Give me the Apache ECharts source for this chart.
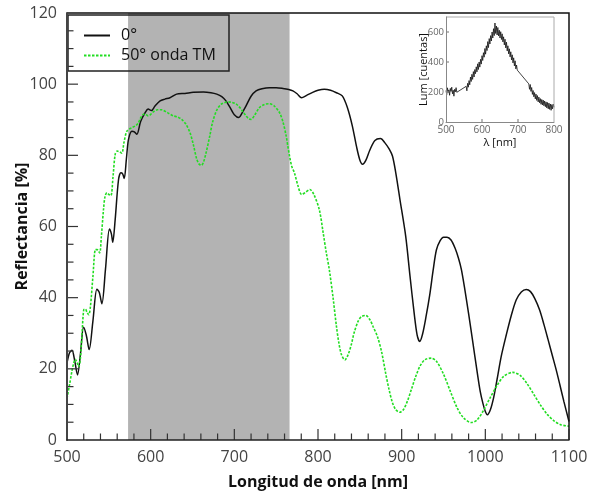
<!DOCTYPE html>
<html>
<head>
<meta charset="utf-8">
<script src="https://cdn.jsdelivr.net/npm/echarts@6/dist/echarts.min.js"></script>
<style>
  html, body { margin: 0; padding: 0; background: #fff; }
  #chart { width: 590px; height: 496px; }
</style>
</head>
<body>
<div id="chart"></div>
<script>
// Reflectance at normal incidence (0°)
const wl0 = [500, 503, 506, 509, 512.6, 516, 519.8, 523, 526.5, 531, 535.7, 538.5, 541.7, 546, 550.7, 553, 554.7,
  557.6, 561.5, 564.4, 566.5, 568.4, 571, 573.5, 577.6, 580.5, 583.5, 588, 593.4, 597, 601, 605, 611.3, 617,
  623, 631, 641, 651, 663, 672, 679, 685, 690, 695, 700, 705.5, 709, 714, 720, 726, 733, 742, 750, 758, 765,
  770, 775, 780.4, 786, 793.6, 800, 807.5, 815, 822, 829, 835, 841, 846, 850, 853.2, 857, 862, 868, 874.7,
  880, 885, 889, 893, 898, 904.8, 910, 915, 918.5, 921.6, 925, 929, 933.5, 937.5, 941.5, 946, 950, 954.2,
  959, 964, 968, 971.4, 975, 980, 985.2, 990, 994, 997.1, 1000, 1002.4, 1006, 1010, 1014, 1019, 1025,
  1031, 1037, 1043, 1048.9, 1054, 1059, 1064.8, 1070, 1075, 1080, 1084.7, 1089, 1094, 1100];
const r0 = [21.6, 24.5, 25.2, 22.5, 18.3, 24, 31.7, 29.5, 25.4, 33.5, 42.4, 41.5, 38.3, 48, 59.3, 58, 55.6,
  62, 73, 75.1, 74.8, 73.5, 79, 84.5, 86.8, 86.6, 85.9, 89.5, 92, 93, 92.6, 93.8, 95.3, 95.8,
  96.2, 97.2, 97.4, 97.7, 97.8, 97.6, 97.2, 96.5, 95.3, 93.4, 91.4, 90.6, 91.8, 93.9, 96.6, 98.1, 98.7, 99, 99, 98.8, 98.5,
  98.1, 97.3, 96.2, 96.8, 97.7, 98.3, 98.6, 98.3, 97.6, 96.7, 93.5, 88.3, 82.5, 78.7, 77.5, 78.5, 81.5, 84.2, 84.7,
  83.5, 81.8, 79.8, 75, 67.5, 57.3, 46, 35.5, 29.5, 27.7, 29.8, 34.5, 40.7, 47.5, 53.4, 56, 57, 57,
  56.2, 53.8, 51, 47.9, 43, 35.5, 27.2, 19.5, 13.5, 10.3, 8, 7.1, 8.5, 12, 17, 23.5, 29.5,
  35, 39.4, 41.6, 42.3, 41.7, 39.8, 36.6, 32.5, 28.2, 23.8, 19.7, 15.6, 10.7, 5.2];

// Reflectance at 50°, TM polarisation
const wl50 = [500, 503, 506, 508, 510, 512, 514, 516, 518, 520, 522, 524, 526, 528, 531, 534, 536, 539, 541,
  543.7, 545.5, 547.7, 550, 552.5, 555, 557.6, 560, 562.8, 565.6, 568, 571.6, 577.6, 582, 585, 588, 591.4,
  594, 597, 600, 603, 608, 613, 620, 627, 632, 637, 642, 647, 651, 655, 658, 660.7, 663, 666, 670.6, 674,
  678.6, 684, 692.4, 697, 702.4, 708, 714, 717, 720, 724, 730, 736, 742, 748, 754, 758, 762, 764, 766,
  768.5, 771.8, 776, 780.4, 785, 790.3, 795, 801.5, 806, 810, 813.5, 818, 822, 825, 828, 832.1, 836, 840,
  843, 848, 852, 857.2, 862, 866, 871, 876, 881, 885, 889, 893, 897.7, 902, 907, 912, 916.7, 922, 928,
  935.6, 942, 950, 958, 966, 974, 983.3, 990, 998, 1006, 1014, 1022, 1032.9, 1042, 1050, 1058, 1066, 1074,
  1082, 1090, 1100];
const r50 = [11.7, 15.5, 19.5, 21.6, 22.7, 21.8, 20.6, 23, 30, 36.6, 36.8, 35.8, 35.2, 37.5, 46, 53.5, 53.5, 52.6, 57,
  65, 68.5, 69.5, 69, 68.7, 74, 80.3, 81.2, 81, 80.6, 83.5, 86.8, 87.8, 88.3, 89, 90.5, 91.5,
  91.5, 91.1, 91.5, 92.2, 92.8, 92.8, 92, 91.1, 90.8, 90.1, 88.8, 86.4, 83, 79, 77.5, 77.2, 78, 80.5, 85.4, 89.3,
  92.5, 94.3, 95, 94.9, 94.4, 93, 91.1, 90.3, 90.1, 91.2, 93.4, 94.3, 94.5, 93.8, 92, 89.5, 85.4, 82.5, 79.8,
  77, 75.1, 71.5, 69, 69.6, 70.4, 69, 64.8, 58.5, 52.5, 47.9, 40, 32, 27.2, 24, 22.5, 24, 27,
  30, 33.4, 34.7, 35, 33.8, 31.8, 29.1, 24.8, 18.6, 14.1, 10.5, 8.5, 7.8, 8.5, 11, 14.5, 17.8, 20.8, 22.6,
  23, 22, 18.5, 13.8, 9.2, 6.2, 4.9, 5.6, 8.4, 12, 15.3, 17.9, 19, 18.1, 15.8, 12.8, 9.8, 7.2,
  5.4, 4.3, 3.9];

// Shaded spectral window (nm)
const bandStart = 573;
const bandEnd = 766;

// Luminescence spectrum (inset)
const lumNm = [500, 502, 504, 506, 508, 510, 512, 514, 516, 518, 520, 522, 524, 526, 528, 530,
  556, 558, 560, 562, 564, 566, 568, 570, 572, 574, 576, 578, 580, 582, 584, 586, 588, 590, 592, 594,
  596, 598, 600, 602, 604, 606, 608, 610, 612, 614, 616, 618, 620, 622, 624, 626, 628, 630, 632, 634,
  636, 638, 640, 642, 644, 646, 648, 650, 652, 654, 656, 658, 660, 662, 664, 666, 668, 670, 672, 674,
  676, 678, 680, 682, 684, 686, 688, 690, 692, 694, 696, 698,
  730, 732, 734, 736, 738, 740, 742, 744, 746, 748, 750, 752, 754, 756, 758, 760, 762, 764, 766, 768,
  770, 772, 774, 776, 778, 780, 782, 784, 786, 788, 790, 792, 794, 796, 798, 800];
const lumCounts = [210, 182, 228, 196, 214, 178, 224, 204, 232, 188, 212, 172, 218, 201, 229, 198,
  238, 208, 258, 232, 276, 248, 300, 270, 318, 284, 336, 300, 350, 322, 368, 334, 388, 350, 400, 366,
  418, 386, 442, 410, 462, 432, 490, 452, 508, 476, 536, 496, 556, 520, 576, 540, 600, 560, 622, 576,
  660, 590, 640, 580, 630, 574, 612, 560, 602, 550, 588, 534, 568, 514, 552, 494, 532, 474, 508, 454,
  488, 434, 468, 414, 448, 394, 428, 374, 408, 354, 380, 346,
  254, 218, 250, 204, 230, 184, 210, 168, 196, 154, 186, 144, 176, 134, 166, 128, 156, 118, 150, 114,
  146, 108, 140, 102, 134, 94, 130, 88, 126, 84, 120, 78, 116, 88, 120, 98];

// Tick positions (axis units)
const xMajor = [500, 600, 700, 800, 900, 1000, 1100];
const xMinor = [520, 540, 560, 580, 620, 640, 660, 680, 720, 740, 760, 780, 820, 840, 860, 880,
  920, 940, 960, 980, 1020, 1040, 1060, 1080];
const yMajor = [20, 40, 60, 80, 100];
const yMinor = [5, 10, 15, 25, 30, 35, 45, 50, 55, 65, 70, 75, 85, 90, 95, 105, 110, 115];
const insetXTicks = [600, 700];
const insetYTicks = [200, 400, 600];

const pairs = (xs, ys) => xs.map((x, i) => [x, ys[i]]);

const W = 590, H = 496;
const MAIN = { left: 67, right: 21, top: 13, bottom: 56 };
const INSET = { left: 446, top: 17, width: 108, height: 105 };
const mainRight = W - MAIN.right, mainBottom = H - MAIN.bottom;
const insetRight = INSET.left + INSET.width, insetBottom = INSET.top + INSET.height;

const FONT = '"Open Sans", "DejaVu Sans", sans-serif';
const chart = echarts.init(document.getElementById('chart'), null, { renderer: 'canvas' });

const frameGraphics = [
  // legend box
  { type: 'rect', shape: { x: 68, y: 15, width: 161, height: 56 },
    style: { fill: 'none', stroke: '#222', lineWidth: 1.5 }, z: 10 },
  // top and right edges of the main frame
  { type: 'polyline', shape: { points: [[MAIN.left, MAIN.top], [mainRight, MAIN.top], [mainRight, mainBottom]] },
    style: { fill: 'none', stroke: '#111', lineWidth: 1.5 }, z: 10 },
  // top and right edges of the inset frame
  { type: 'polyline', shape: { points: [[INSET.left, INSET.top], [insetRight, INSET.top], [insetRight, insetBottom]] },
    style: { fill: 'none', stroke: '#aaa', lineWidth: 1 }, z: 10 }
];

chart.setOption({
  animation: false,
  backgroundColor: '#fff',
  textStyle: { fontFamily: FONT },
  grid: [
    Object.assign({ outerBoundsMode: 'none' }, MAIN),
    Object.assign({ outerBoundsMode: 'none' }, INSET)
  ],
  legend: {
    orient: 'vertical',
    left: 83,
    top: 26,
    padding: 0,
    itemWidth: 26,
    itemHeight: 14,
    itemGap: 1,
    itemStyle: { opacity: 0 },
    textStyle: { fontSize: 16, color: '#111', fontFamily: FONT, padding: [0, 0, 0, 6], lineHeight: 19 },
    data: ['0°', '50° onda TM']
  },
  graphic: frameGraphics,
  xAxis: [
    {
      gridIndex: 0, type: 'value', min: 500, max: 1100, interval: 100, zlevel: 1,
      axisLine: { show: true, lineStyle: { color: '#222', width: 1.5 } },
      axisTick: { show: false },
      splitLine: { show: false },
      axisLabel: { color: '#444', fontSize: 16, margin: 9, fontFamily: FONT, formatter: v => String(v) },
      name: 'Longitud de onda [nm]', nameLocation: 'middle', nameGap: 34,
      nameTextStyle: { fontSize: 16, fontWeight: 'bold', color: '#111', fontFamily: FONT }
    },
    {
      gridIndex: 1, type: 'value', min: 500, max: 800, interval: 100, zlevel: 1,
      axisLine: { show: true, lineStyle: { color: '#888', width: 1 } },
      axisTick: { show: false },
      splitLine: { show: false },
      axisLabel: { color: '#666', fontSize: 10, margin: 3, fontFamily: FONT, formatter: v => String(v) },
      name: 'λ [nm]', nameLocation: 'middle', nameGap: 15,
      nameTextStyle: { fontSize: 11, color: '#111', fontFamily: FONT }
    }
  ],
  yAxis: [
    {
      gridIndex: 0, type: 'value', min: 0, max: 120, interval: 20, zlevel: 1,
      axisLine: { show: true, lineStyle: { color: '#444', width: 2 } },
      axisTick: { show: false },
      splitLine: { show: false },
      axisLabel: { color: '#444', fontSize: 16, margin: 10, fontFamily: FONT },
      name: 'Reflectancia [%]', nameLocation: 'middle', nameGap: 37, nameMoveOverlap: false,
      nameTextStyle: { fontSize: 16, fontWeight: 'bold', color: '#111', fontFamily: FONT }
    },
    {
      gridIndex: 1, type: 'value', min: 0, max: 700, interval: 200, zlevel: 1,
      axisLine: { show: true, lineStyle: { color: '#888', width: 1 } },
      axisTick: { show: false },
      splitLine: { show: false },
      axisLabel: { color: '#666', fontSize: 9.5, margin: 2, showMaxLabel: false, fontFamily: FONT },
      name: 'Lum [cuentas]', nameLocation: 'middle', nameGap: 17, nameMoveOverlap: false,
      nameTextStyle: { fontSize: 11, color: '#111', fontFamily: FONT }
    }
  ],
  series: [
    {
      name: 'band', type: 'line', xAxisIndex: 0, yAxisIndex: 0, data: [], z: 1, silent: true,
      markArea: {
        silent: true,
        itemStyle: { color: '#b3b3b3' },
        data: [[{ xAxis: bandStart, yAxis: 0 }, { xAxis: bandEnd, yAxis: 120 }]]
      }
    },
    {
      name: '0°', type: 'line', xAxisIndex: 0, yAxisIndex: 0, z: 3,
      data: pairs(wl0, r0), smooth: 0.3, showSymbol: false, symbol: 'none',
      lineStyle: { color: '#111', width: 1.5 }, itemStyle: { color: '#111' }
    },
    {
      name: '50° onda TM', type: 'line', xAxisIndex: 0, yAxisIndex: 0, z: 3,
      data: pairs(wl50, r50), smooth: 0.3, showSymbol: false, symbol: 'none',
      lineStyle: { color: '#22dd22', width: 1.6, type: [2.5, 1.5] }, itemStyle: { color: '#22dd22' }
    },
    {
      name: 'lum', type: 'line', xAxisIndex: 1, yAxisIndex: 1, z: 3,
      data: pairs(lumNm, lumCounts), showSymbol: false, symbol: 'none',
      lineStyle: { color: '#111', width: 0.8 }
    }
  ]
});

// Inward tick marks, placed through the axes' own scales
const tickLine = (x1, y1, x2, y2, color) => ({
  type: 'line', shape: { x1, y1, x2, y2 }, style: { stroke: color, lineWidth: 1.2 }, z: 11, silent: true
});
const ticks = [];
const xPix = (axis, v) => chart.convertToPixel({ xAxisIndex: axis }, v);
const yPix = (axis, v) => chart.convertToPixel({ yAxisIndex: axis }, v);
xMajor.forEach(v => { const p = xPix(0, v); ticks.push(tickLine(p, mainBottom, p, mainBottom - 11, '#333')); });
xMinor.forEach(v => { const p = xPix(0, v); ticks.push(tickLine(p, mainBottom, p, mainBottom - 6.5, '#333')); });
yMajor.forEach(v => { const p = yPix(0, v); ticks.push(tickLine(MAIN.left, p, MAIN.left + 11, p, '#333')); });
yMinor.forEach(v => { const p = yPix(0, v); ticks.push(tickLine(MAIN.left, p, MAIN.left + 6.5, p, '#333')); });
insetXTicks.forEach(v => { const p = xPix(1, v); ticks.push(tickLine(p, insetBottom, p, insetBottom - 3, '#888')); });
insetYTicks.forEach(v => { const p = yPix(1, v); ticks.push(tickLine(INSET.left, p, INSET.left + 3, p, '#888')); });

chart.setOption({ graphic: frameGraphics.concat(ticks) });
</script>
</body>
</html>
